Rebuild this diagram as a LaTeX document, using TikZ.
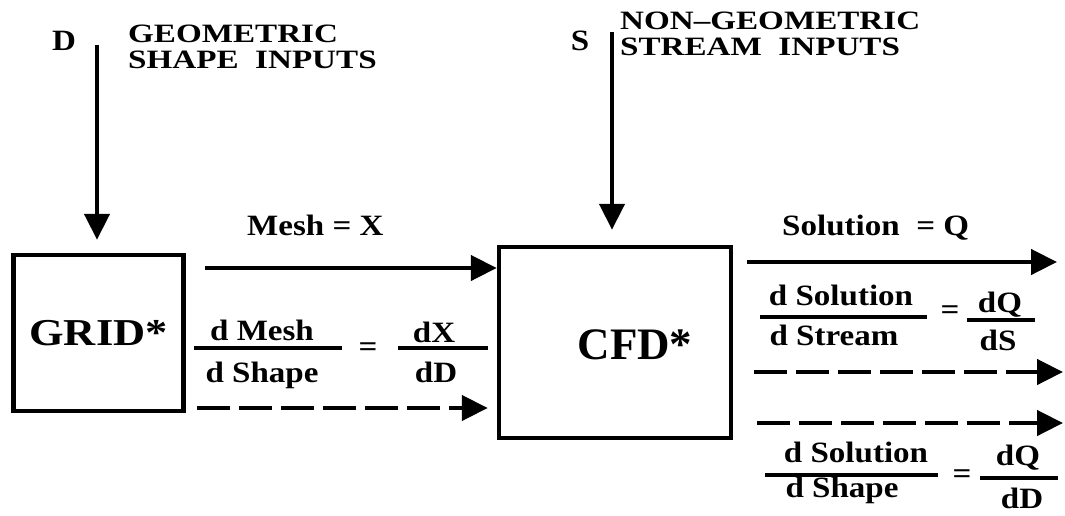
\documentclass[tikz,border=0pt]{standalone}
\usepackage{fontspec}
\setmainfont{Liberation Serif}
\newfontfamily\widefont[FakeStretch=1.12]{Liberation Serif}
\newfontfamily\headfont[FakeStretch=1.25]{Liberation Serif}
\newfontfamily\gridfont[FakeStretch=1.17]{Liberation Serif}
\usetikzlibrary{arrows.meta}
\begin{document}
\begin{tikzpicture}[x=1pt,y=-1pt,
  boxnode/.style={draw, line width=4.5pt, rectangle, inner sep=0pt},
  lbl/.style={font=\widefont\bfseries\fontsize{29.5}{29.5}\selectfont, inner sep=0pt},
  hlbl/.style={font=\headfont\bfseries\fontsize{26.5}{26.5}\selectfont, inner sep=0pt},
  arr/.style={line width=4.5pt, -{Triangle[length=26pt,width=25pt]}},
  dsh/.style={dash pattern=on 33pt off 9pt},
  fbar/.style={line width=4pt}]
\useasboundingbox (0,0) rectangle (1065,515);

% boxes
\node[boxnode, minimum width=170pt, minimum height=156pt,
      font=\gridfont\bfseries\fontsize{38}{38}\selectfont] (grid) at (98.5,333) {GRID*};
\node[boxnode, minimum width=232pt, minimum height=191pt] (cfd) at (615,342.5) {};
\node[inner sep=0pt, font=\bfseries\fontsize{45}{45}\selectfont] (cfdlbl) at (635,345) {CFD*};

% header labels
\node[lbl, anchor=base] (dlbl) at (64,50) {D};
\node[hlbl, anchor=base west] (geo1) at (128,42) {GEOMETRIC};
\node[hlbl, anchor=base west] (geo2) at (128,68) {SHAPE\ \ INPUTS};
\node[lbl, anchor=base] (slbl) at (580,50) {S};
\node[hlbl, anchor=base west] (ng1) at (620,29) {NON–GEOMETRIC};
\node[hlbl, anchor=base west] (ng2) at (620,55) {STREAM\ \ INPUTS};

% input arrows
\coordinate (dtop) at (97,45);
\draw[arr, shorten >=13pt] (dtop) -- (dtop |- grid.north);
\coordinate (stop) at (612,32);
\draw[arr, shorten >=15pt] (stop) -- (stop |- cfd.north);

% mesh arrows
\node[lbl, anchor=base west] (meshlbl) at (247,235) {Mesh = X};
\coordinate (ms) at (205,268);
\draw[arr] (ms) -- (ms -| cfd.west);
\coordinate (ds) at (197,408);
\draw[arr, dsh, shorten >=9pt] (ds) -- (ds -| cfd.west);

% dMesh/dShape = dX/dD
\node[lbl, anchor=base] (fn1) at (262,340) {d Mesh};
\node[lbl, anchor=base] (fd1) at (262,382) {d Shape};
\draw[fbar] (194,348) -- (342,348);
\node[lbl] (eq1) at (368,350) {=};
\node[lbl, anchor=base] (gn1) at (434,342) {dX};
\node[lbl, anchor=base] (gd1) at (436,382) {dD};
\draw[fbar] (398,348) -- (488,348);

% solution arrows
\node[lbl, anchor=base west] (sollbl) at (782,235) {Solution\ \ = Q};
\coordinate (se) at (1057,262);
\draw[arr, shorten <=14pt] (cfd.east |- se) -- (se);
\coordinate (d1e) at (1063,372);
\draw[arr, dsh, shorten <=21pt] (cfd.east |- d1e) -- (d1e);
\coordinate (d2e) at (1063,423);
\draw[arr, dsh, shorten <=24pt] (cfd.east |- d2e) -- (d2e);

% dSolution/dStream = dQ/dS
\node[lbl, anchor=base] (fn2) at (841,305) {d Solution};
\node[lbl, anchor=base] (fd2) at (834,345) {d Stream};
\draw[fbar] (760,317) -- (927,317);
\node[lbl] (eq2) at (950,313) {=};
\node[lbl, anchor=base] (gn2) at (1000,312) {dQ};
\node[lbl, anchor=base] (gd2) at (998,350) {dS};
\draw[fbar] (967,320) -- (1035,320);

% dSolution/dShape = dQ/dD
\node[lbl, anchor=base] (fn3) at (856,462) {d Solution};
\node[lbl, anchor=base] (fd3) at (842,497) {d Shape};
\draw[fbar] (765,475) -- (938,475);
\node[lbl] (eq3) at (962,477) {=};
\node[lbl, anchor=base] (gn3) at (1018,465) {dQ};
\node[lbl, anchor=base] (gd3) at (1022,508) {dD};
\draw[fbar] (980,478) -- (1058,478);
\end{tikzpicture}
\end{document}
